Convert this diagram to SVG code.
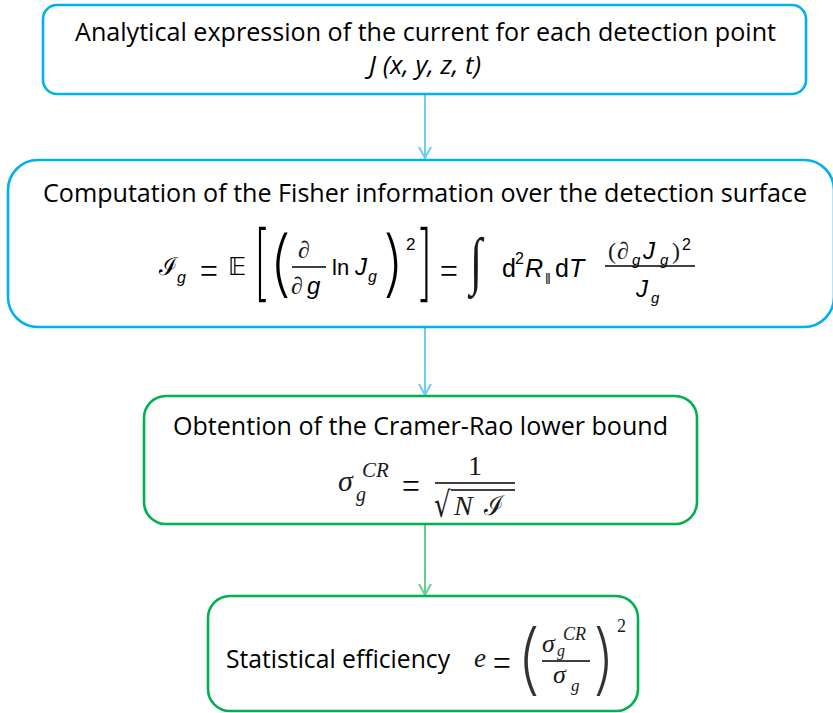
<svg xmlns="http://www.w3.org/2000/svg" width="833" height="713" viewBox="0 0 833 713">
<style>
.bb{fill:#fff;stroke:#00b0f0;stroke-width:2.6}
.bg{fill:#fff;stroke:#00b050;stroke-width:2.6}
.lbl{font-family:"Open Sans","Liberation Sans",sans-serif;font-size:26px;fill:#000}
.it{font-style:italic}
.si{font-family:"Liberation Sans",sans-serif;font-style:italic;fill:#000}
.su{font-family:"Liberation Sans",sans-serif;fill:#000}
.ri{font-family:"Liberation Serif",serif;font-style:italic;fill:#1a1a1a}
.ru{font-family:"Liberation Serif",serif;fill:#1a1a1a}
.dl{font-family:Inter,"DejaVu Sans",sans-serif;font-weight:200;font-size:26px}
.eq{font-family:Inter,"DejaVu Sans",sans-serif;font-weight:200;font-size:40px;fill:#000;text-anchor:middle}
.bar{stroke:#000;stroke-width:1.3}
.cb{fill:none;stroke:#6ccdf3;stroke-width:2}
.cg{fill:none;stroke:#63cf8d;stroke-width:2}
</style>
<defs>
<marker id="ab" markerUnits="userSpaceOnUse" viewBox="0 0 12 14" markerWidth="12" markerHeight="14" refX="11" refY="7" orient="auto" overflow="visible">
<path d="M0,1 L11,7 L0,13" fill="none" stroke="#6ccdf3" stroke-width="2"/>
</marker>
<marker id="ag" markerUnits="userSpaceOnUse" viewBox="0 0 12 14" markerWidth="12" markerHeight="14" refX="11" refY="7" orient="auto" overflow="visible">
<path d="M0,1 L11,7 L0,13" fill="none" stroke="#63cf8d" stroke-width="2"/>
</marker>
</defs>
<g id="connectors">
<line class="cb" x1="425" y1="94" x2="425" y2="158" marker-end="url(#ab)"/>
<line class="cb" x1="425" y1="327" x2="425" y2="395" marker-end="url(#ab)"/>
<line class="cg" x1="425" y1="524" x2="425" y2="595" marker-end="url(#ag)"/>
</g>
<g id="node1">
<rect class="bb" x="43" y="5" width="763" height="89" rx="14"/>
<text class="lbl" x="425.5" y="41" text-anchor="middle" font-size="25" textLength="701" lengthAdjust="spacingAndGlyphs">Analytical expression of the current for each detection point</text>
<text class="lbl it" x="425" y="74" text-anchor="middle" font-size="25" textLength="112" lengthAdjust="spacingAndGlyphs">J (x, y, z, t)</text>
</g>
<g id="node2">
<rect class="bb" x="8" y="160" width="826" height="167" rx="30"/>
<text class="lbl" x="425" y="202" text-anchor="middle" textLength="764" lengthAdjust="spacingAndGlyphs">Computation of the Fisher information over the detection surface</text>
<text x="159" y="275" font-family="DejaVu Serif,serif" font-size="25" fill="#000">ℐ</text>
<text class="si" x="177" y="283" font-size="16">g</text>
<text class="eq" x="209" y="282">=</text>
<text x="228" y="275" font-family="DejaVu Sans,sans-serif" font-size="25" fill="#000">𝔼</text>
<text class="dl" transform="translate(253,291) scale(1.9,3.2)" fill="#000">[</text>
<text class="dl" transform="translate(268,288) scale(2.8,2.77)" fill="#000">(</text>
<text class="ri" x="298" y="258" font-size="24" fill="#000">∂</text>
<line class="bar" x1="292" y1="267" x2="326" y2="267"/>
<text class="ri" x="291" y="294" font-size="24" fill="#000">∂</text>
<text class="si" x="307" y="294" font-size="24">g</text>
<text class="su" x="332" y="275" font-size="22">ln</text>
<text class="si" x="355" y="275" font-size="24">J</text>
<text class="si" x="368" y="282" font-size="16">g</text>
<text class="dl" transform="translate(382,288) scale(2.7,2.77)" fill="#000">)</text>
<text class="su" x="406" y="250" font-size="17">2</text>
<text class="dl" transform="translate(417,291) scale(1.9,3.2)" fill="#000">]</text>
<text class="eq" x="449" y="282">=</text>
<text class="ru" transform="translate(470,282) scale(1.7,2.44)" font-size="26" fill="#000">∫</text>
<text class="su" x="502" y="277" font-size="25">d</text>
<text class="su" x="515" y="264" font-size="16">2</text>
<text class="si" x="525" y="277" font-size="25">R</text>
<text class="su" x="545" y="284" font-size="14">‖</text>
<text class="su" x="555" y="277" font-size="25">d</text>
<text class="si" x="569" y="277" font-size="25">T</text>
<text class="ru" x="608" y="259" font-size="24" fill="#000">(</text>
<text class="ri" x="617" y="259" font-size="24" fill="#000">∂</text>
<text class="si" x="632" y="265" font-size="15">g</text>
<text class="si" x="643" y="259" font-size="24">J</text>
<text class="si" x="660" y="265" font-size="15">g</text>
<text class="ru" x="672" y="259" font-size="24" fill="#000">)</text>
<text class="su" x="682" y="250" font-size="16">2</text>
<line class="bar" x1="605" y1="266" x2="695" y2="266"/>
<text class="si" x="636" y="297" font-size="24">J</text>
<text class="si" x="651" y="303" font-size="15">g</text>
</g>
<g id="node3">
<rect class="bg" x="144" y="396" width="553" height="128" rx="22"/>
<text class="lbl" x="420.5" y="435" text-anchor="middle" textLength="495" lengthAdjust="spacingAndGlyphs">Obtention of the Cramer-Rao lower bound</text>
<text class="ri" x="338" y="491" font-size="30">σ</text>
<text class="ri" x="362" y="477" font-size="21">CR</text>
<text class="ri" x="356" y="501" font-size="20">g</text>
<text class="eq" x="411" y="497" fill="#1a1a1a">=</text>
<text class="ru" x="475" y="475" font-size="28" text-anchor="middle">1</text>
<line class="bar" x1="435" y1="483" x2="515" y2="483" stroke="#1a1a1a"/>
<text transform="translate(434,517) scale(1,1.35)" font-family="DejaVu Sans,sans-serif" font-size="26" fill="#1a1a1a">√</text>
<line class="bar" x1="451" y1="490" x2="515" y2="490" stroke="#1a1a1a"/>
<text class="ri" x="454" y="515" font-size="28">N</text>
<text x="484" y="515" font-family="DejaVu Serif,serif" font-size="27" fill="#1a1a1a">ℐ</text>
</g>
<g id="node4">
<rect class="bg" x="208" y="596" width="430" height="115" rx="22"/>
<text class="lbl" x="226" y="668" textLength="224" lengthAdjust="spacingAndGlyphs">Statistical efficiency</text>
<text class="ri" x="474" y="667" font-size="27" fill="#555">e</text>
<text class="eq" x="502" y="674" fill="#555">=</text>
<text class="dl" transform="translate(515.5,684.6) scale(3,2.96)" fill="#333">(</text>
<text class="ri" x="542" y="652" font-size="26" fill="#333">σ</text>
<text class="ri" x="563" y="640" font-size="18" fill="#333">CR</text>
<text class="ri" x="557" y="656" font-size="16" fill="#333">g</text>
<line class="bar" x1="542" y1="661" x2="590" y2="661" stroke="#333"/>
<text class="ri" x="553" y="683" font-size="26" fill="#333">σ</text>
<text class="ri" x="571" y="691" font-size="17" fill="#333">g</text>
<text class="dl" transform="translate(592,684.6) scale(2.8,2.96)" fill="#333">)</text>
<text class="ru" x="617" y="632" font-size="18" fill="#333">2</text>
</g>
</svg>
